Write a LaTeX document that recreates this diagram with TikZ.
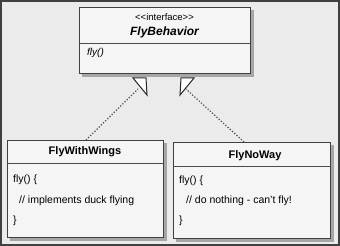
\documentclass[tikz,border=0pt]{standalone}
\usepackage{fontspec}
\setmainfont{Liberation Sans}
\begin{document}
\begin{tikzpicture}[x=1pt,y=-1pt,
  shadowbox/.style={fill=black!35},
  umlbox/.style={draw=black!75,line width=0.9pt,fill=black!4},
  sepline/.style={draw=black!70,line width=0.7pt},
  txt/.style={inner sep=0pt,font=\fontsize{10.5}{12}\selectfont},
  dots/.style={draw=black!70,line width=1.2pt,dash pattern=on 1.2pt off 1.8pt},
  tri/.style={draw=black!85,line width=1pt,fill=white,line join=miter}]
\fill[black!8] (0,0) rectangle (340,246);
\draw[black!75,line width=2pt] (1,1) rectangle (339,245);
\useasboundingbox (0,0) rectangle (340,246);
% top box
\fill[shadowbox] (82,10) rectangle (254,77);
\draw[umlbox] (79,7) rectangle (250,73);
\draw[sepline] (79,43) -- (250,43);
\node[txt,font=\fontsize{9.5}{11}\selectfont] (stereo) at (164.5,17) {<\kern0pt<interface>\kern0pt>};
\node[txt,font=\fontsize{12}{13}\selectfont\bfseries\itshape] (fb) at (164.5,32) {FlyBehavior};
\node[txt,anchor=west,font=\fontsize{10}{11}\selectfont\itshape] (fbm) at (87,53) {fly()};
% left box
\fill[shadowbox] (10,143) rectangle (167,241);
\draw[umlbox] (7,140) rectangle (163,237);
\draw[sepline] (7,163) -- (163,163);
\node[txt,font=\fontsize{11}{12}\selectfont\bfseries] (fww) at (85,152) {FlyWithWings};
\node[txt,anchor=west] (l1) at (13,180) {fly() \{};
\node[txt,anchor=west] (l2) at (19,201) {// implements duck flying};
\node[txt,anchor=west] (l3) at (13,221) {\}};
% right box
\fill[shadowbox] (176,145) rectangle (334,242);
\draw[umlbox] (173,142) rectangle (330,238);
\draw[sepline] (173,166) -- (330,166);
\node[txt,font=\fontsize{11}{12}\selectfont\bfseries] (fnw) at (255,156) {FlyNoWay};
\node[txt,anchor=west] (r1) at (179,181) {fly() \{};
\node[txt,anchor=west] (r2) at (186,201) {// do nothing - can't fly!};
\node[txt,anchor=west] (r3) at (179,221) {\}};
% connectors
\coordinate (ls) at (86,140);
\coordinate (le) at (138,89);
\coordinate (rs) at (244,142);
\coordinate (re) at (186,89);
\draw[dots] (ls) -- (le);
\draw[dots] (rs) -- (re);
\draw[tri] (133,78) -- (146,78) -- (147,95) -- cycle;
\draw[tri] (181,78) -- (194,78) -- (180,95) -- cycle;
\end{tikzpicture}
\end{document}
